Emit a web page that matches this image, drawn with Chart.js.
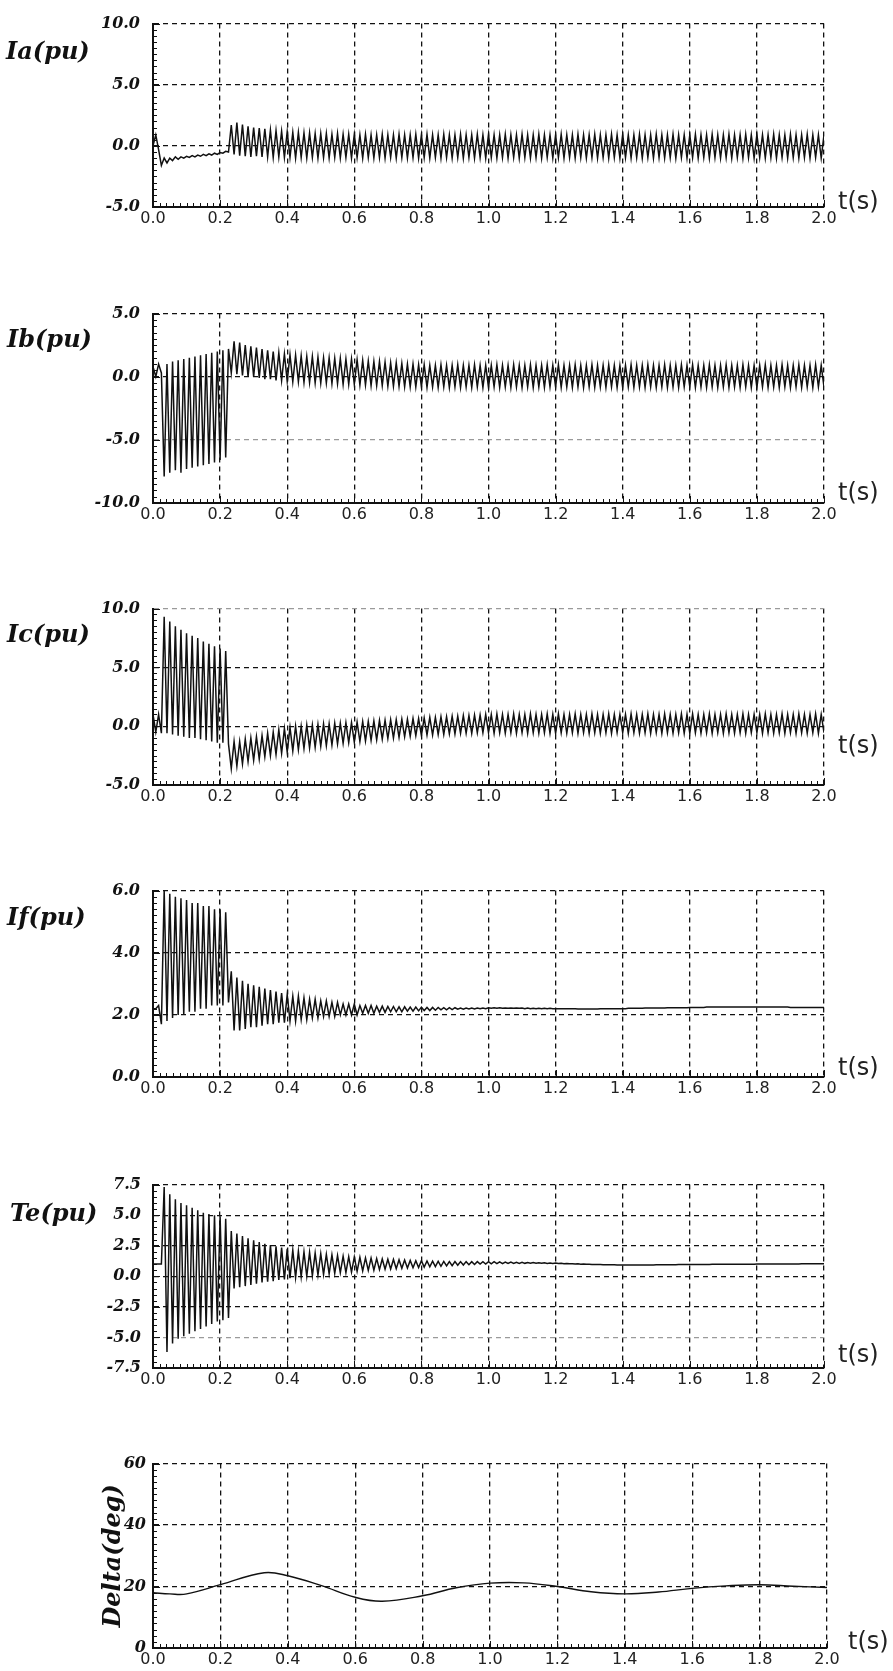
<!DOCTYPE html>
<html>
<head>
<meta charset="utf-8">
<title>Ia Ib Ic If Te Delta</title>
<script src="https://cdn.jsdelivr.net/npm/chart.js@4.4.1/dist/chart.umd.min.js"></script>
<style>
  body { margin: 0; background: #fff; }
  #wrap { position: relative; width: 893px; height: 1671px; background: #fff; overflow: hidden; }
  canvas { position: absolute; left: 0; }
</style>
</head>
<body>
<div id="wrap"></div>
<script>
// samples every half cycle of 60 Hz, 0 .. 2 s
var halfCycle = 1 / 120;
var times = Array.from({ length: 241 }, (_, k) => +(k * halfCycle).toFixed(5));

var xTicks = [0.0, 0.2, 0.4, 0.6, 0.8, 1.0, 1.2, 1.4, 1.6, 1.8, 2.0];

var ia = [
  0.0, 0.9, -0.3, -1.6, -1.0, -1.4, -1.0, -1.2, -0.9, -1.1, -0.9, -1.0, -0.85, -0.95, -0.8, -0.9, -0.75, -0.85, -0.7, -0.8, -0.65, -0.75, -0.6, -0.7,
  -0.55, -0.6, -0.45, -0.5, 1.7, -0.7, 1.9, -0.8, 1.75, -0.85, 1.6, -0.9, 1.5, -0.85, 1.45, -0.9, 1.4, -0.9, 1.3, -0.95, 1.25, -0.9, 1.2, -0.95,
  1.15, -0.95, 1.1, -1.0, 1.1, -0.95, 1.05, -1.0, 1.05, -0.95, 1.0, -1.0, 1.0, -0.95, 1.0, -1.0, 0.95, -0.95, 1.0, -1.0, 0.95, -0.95, 0.95, -1.0,
  0.95, -0.95, 0.9, -1.0, 0.95, -0.95, 0.9, -1.0, 0.9, -0.95, 0.95, -1.0, 0.9, -0.95, 0.9, -1.0, 0.95, -0.95, 0.9, -1.0, 0.9, -0.95, 0.95, -1.0,
  0.9, -0.95, 0.95, -1.0, 0.9, -0.95, 0.9, -1.0, 0.95, -0.95, 0.9, -1.0, 0.9, -0.95, 0.95, -1.0, 0.9, -0.95, 0.9, -1.0, 0.95, -0.95, 0.9, -1.0,
  0.95, -0.95, 0.9, -1.0, 0.9, -0.95, 0.95, -1.0, 0.9, -0.95, 0.9, -1.0, 0.95, -0.95, 0.9, -1.0, 0.9, -0.95, 0.95, -1.0, 0.9, -0.95, 0.9, -1.0,
  0.9, -0.95, 0.95, -1.0, 0.9, -0.95, 0.9, -1.0, 0.95, -0.95, 0.9, -1.0, 0.9, -0.95, 0.95, -1.0, 0.9, -0.95, 0.9, -1.0, 0.95, -0.95, 0.9, -1.0,
  0.95, -0.95, 0.9, -1.0, 0.9, -0.95, 0.95, -1.0, 0.9, -0.95, 0.9, -1.0, 0.95, -0.95, 0.9, -1.0, 0.9, -0.95, 0.95, -1.0, 0.9, -0.95, 0.9, -1.0,
  0.9, -0.95, 0.95, -1.0, 0.9, -0.95, 0.9, -1.0, 0.95, -0.95, 0.9, -1.0, 0.9, -0.95, 0.95, -1.0, 0.9, -0.95, 0.9, -1.0, 0.95, -0.95, 0.9, -1.0,
  0.95, -0.95, 0.9, -1.0, 0.9, -0.95, 0.95, -1.0, 0.9, -0.95, 0.9, -1.0, 0.95, -0.95, 0.9, -1.0, 0.9, -0.95, 0.95, -1.0, 0.9, -0.95, 0.9, -1.0,
  0.9
];

var ib = [
  0.8, 0.0, 1.0, 0.3, -7.9, 1.0, -7.6, 1.2, -7.4, 1.3, -7.6, 1.4, -7.3, 1.5, -7.2, 1.6, -7.1, 1.7, -7.0, 1.8, -6.9, 1.9, -6.8, 2.0,
  -6.6, 2.1, -6.4, 2.2, 0.3, 2.8, 0.2, 2.7, 0.1, 2.5, 0.0, 2.4, 0.0, 2.3, -0.1, 2.2, -0.2, 2.1, -0.2, 2.0, -0.3, 1.9, -0.3, 1.8,
  -0.35, 1.75, -0.4, 1.7, -0.4, 1.65, -0.45, 1.6, -0.45, 1.6, -0.5, 1.55, -0.5, 1.5, -0.5, 1.5, -0.55, 1.45, -0.55, 1.45, -0.6, 1.4, -0.6, 1.4,
  -0.6, 1.35, -0.65, 1.3, -0.65, 1.25, -0.7, 1.2, -0.7, 1.2, -0.7, 1.15, -0.75, 1.1, -0.75, 1.1, -0.75, 1.05, -0.8, 1.0, -0.8, 1.0, -0.8, 0.95,
  -0.8, 0.95, -0.85, 0.9, -0.8, 0.9, -0.85, 0.95, -0.8, 0.9, -0.85, 0.9, -0.8, 0.95, -0.85, 0.9, -0.8, 0.9, -0.85, 0.95, -0.8, 0.9, -0.85, 0.9,
  -0.85, 0.9, -0.8, 0.95, -0.85, 0.9, -0.8, 0.9, -0.85, 0.95, -0.8, 0.9, -0.85, 0.9, -0.8, 0.95, -0.85, 0.9, -0.8, 0.9, -0.85, 0.95, -0.8, 0.9,
  -0.8, 0.95, -0.85, 0.9, -0.8, 0.9, -0.85, 0.95, -0.8, 0.9, -0.85, 0.9, -0.8, 0.95, -0.85, 0.9, -0.8, 0.9, -0.85, 0.95, -0.8, 0.9, -0.85, 0.9,
  -0.85, 0.9, -0.8, 0.95, -0.85, 0.9, -0.8, 0.9, -0.85, 0.95, -0.8, 0.9, -0.85, 0.9, -0.8, 0.95, -0.85, 0.9, -0.8, 0.9, -0.85, 0.95, -0.8, 0.9,
  -0.8, 0.95, -0.85, 0.9, -0.8, 0.9, -0.85, 0.95, -0.8, 0.9, -0.85, 0.9, -0.8, 0.95, -0.85, 0.9, -0.8, 0.9, -0.85, 0.95, -0.8, 0.9, -0.85, 0.9,
  -0.85, 0.9, -0.8, 0.95, -0.85, 0.9, -0.8, 0.9, -0.85, 0.95, -0.8, 0.9, -0.85, 0.9, -0.8, 0.95, -0.85, 0.9, -0.8, 0.9, -0.85, 0.95, -0.8, 0.9,
  -0.8
];

var ic = [
  1.0, -0.5, 1.0, -0.6, 9.3, -0.6, 8.9, -0.7, 8.5, -0.8, 8.2, -0.9, 7.9, -1.0, 7.7, -1.0, 7.5, -1.1, 7.2, -1.2, 7.0, -1.3, 6.8, -1.4,
  6.6, -1.4, 6.4, -1.5, -3.6, -1.3, -3.4, -1.3, -3.2, -1.1, -3.0, -1.0, -2.9, -0.9, -2.8, -0.8, -2.6, -0.6, -2.5, -0.5, -2.4, -0.3, -2.3, -0.2,
  -2.2, -0.1, -2.1, 0.0, -2.0, 0.0, -1.9, 0.1, -1.85, 0.1, -1.8, 0.15, -1.7, 0.2, -1.65, 0.2, -1.6, 0.25, -1.5, 0.25, -1.45, 0.3, -1.4, 0.3,
  -1.35, 0.35, -1.3, 0.4, -1.25, 0.4, -1.2, 0.45, -1.15, 0.5, -1.1, 0.5, -1.05, 0.55, -1.0, 0.55, -0.95, 0.6, -0.9, 0.6, -0.85, 0.65, -0.8, 0.65,
  -0.8, 0.7, -0.75, 0.75, -0.75, 0.75, -0.7, 0.8, -0.7, 0.8, -0.65, 0.85, -0.65, 0.85, -0.6, 0.9, -0.6, 0.9, -0.6, 0.95, -0.55, 0.95, -0.55, 1.0,
  -0.55, 1.0, -0.6, 1.05, -0.55, 1.0, -0.6, 1.0, -0.55, 1.05, -0.6, 1.0, -0.55, 1.0, -0.6, 1.05, -0.55, 1.0, -0.6, 1.0, -0.55, 1.05, -0.6, 1.0,
  -0.6, 1.05, -0.55, 1.0, -0.6, 1.0, -0.55, 1.05, -0.6, 1.0, -0.55, 1.0, -0.6, 1.05, -0.55, 1.0, -0.6, 1.0, -0.55, 1.05, -0.6, 1.0, -0.55, 1.0,
  -0.55, 1.0, -0.6, 1.05, -0.55, 1.0, -0.6, 1.0, -0.55, 1.05, -0.6, 1.0, -0.55, 1.0, -0.6, 1.05, -0.55, 1.0, -0.6, 1.0, -0.55, 1.05, -0.6, 1.0,
  -0.6, 1.05, -0.55, 1.0, -0.6, 1.0, -0.55, 1.05, -0.6, 1.0, -0.55, 1.0, -0.6, 1.05, -0.55, 1.0, -0.6, 1.0, -0.55, 1.05, -0.6, 1.0, -0.55, 1.0,
  -0.55, 1.0, -0.6, 1.05, -0.55, 1.0, -0.6, 1.0, -0.55, 1.05, -0.6, 1.0, -0.55, 1.0, -0.6, 1.05, -0.55, 1.0, -0.6, 1.0, -0.55, 1.05, -0.6, 1.0,
  -0.55
];

var iff = [
  2.2, 2.2, 2.3, 1.7, 6.0, 1.8, 5.9, 1.9, 5.8, 2.0, 5.75, 2.0, 5.7, 2.1, 5.6, 2.1, 5.6, 2.2, 5.5, 2.2, 5.5, 2.3, 5.4, 2.3,
  5.4, 2.3, 5.3, 2.4, 3.4, 1.5, 3.2, 1.5, 3.1, 1.55, 3.0, 1.6, 2.95, 1.6, 2.9, 1.65, 2.85, 1.7, 2.8, 1.7, 2.75, 1.75, 2.7, 1.75,
  2.65, 1.8, 2.6, 1.8, 2.6, 1.85, 2.55, 1.85, 2.5, 1.9, 2.5, 1.9, 2.45, 1.95, 2.45, 1.95, 2.4, 1.95, 2.4, 2.0, 2.35, 2.0, 2.35, 2.0,
  2.35, 2.0, 2.3, 2.05, 2.3, 2.05, 2.3, 2.05, 2.28, 2.08, 2.28, 2.08, 2.27, 2.1, 2.27, 2.1, 2.26, 2.1, 2.26, 2.12, 2.25, 2.12, 2.25, 2.13,
  2.25, 2.14, 2.24, 2.14, 2.24, 2.15, 2.24, 2.16, 2.23, 2.16, 2.23, 2.17, 2.23, 2.18, 2.22, 2.18, 2.22, 2.19, 2.22, 2.19, 2.22, 2.2, 2.22, 2.2,
  2.23, 2.21, 2.23, 2.21, 2.23, 2.21, 2.22, 2.21, 2.22, 2.21, 2.22, 2.21, 2.22, 2.2, 2.22, 2.2, 2.21, 2.2, 2.21, 2.2, 2.21, 2.2, 2.21, 2.2,
  2.2, 2.2, 2.2, 2.2, 2.2, 2.2, 2.2, 2.2, 2.19, 2.19, 2.19, 2.19, 2.19, 2.19, 2.19, 2.19, 2.2, 2.2, 2.2, 2.2, 2.2, 2.2, 2.2, 2.2,
  2.2, 2.2, 2.21, 2.21, 2.21, 2.21, 2.21, 2.21, 2.22, 2.22, 2.22, 2.22, 2.22, 2.22, 2.22, 2.22, 2.23, 2.23, 2.23, 2.23, 2.23, 2.23, 2.23, 2.23,
  2.24, 2.24, 2.24, 2.24, 2.24, 2.24, 2.25, 2.25, 2.25, 2.25, 2.25, 2.25, 2.25, 2.25, 2.25, 2.25, 2.25, 2.25, 2.25, 2.25, 2.25, 2.25, 2.25, 2.25,
  2.25, 2.25, 2.25, 2.25, 2.25, 2.25, 2.25, 2.25, 2.25, 2.25, 2.25, 2.25, 2.24, 2.24, 2.24, 2.24, 2.24, 2.24, 2.24, 2.24, 2.24, 2.24, 2.24, 2.24,
  2.24
];

var te = [
  1.0, 1.0, 1.0, 1.0, 7.3, -6.2, 6.7, -5.5, 6.3, -5.1, 6.0, -4.9, 5.8, -4.7, 5.6, -4.5, 5.4, -4.3, 5.2, -4.1, 5.1, -3.9, 5.0, -3.7,
  4.9, -3.6, 4.7, -3.4, 3.7, -1.0, 3.5, -0.9, 3.3, -0.8, 3.1, -0.7, 2.95, -0.6, 2.8, -0.5, 2.65, -0.45, 2.55, -0.4, 2.45, -0.3, 2.35, -0.25,
  2.25, -0.15, 2.15, -0.1, 2.05, -0.05, 2.0, 0.0, 1.95, 0.05, 1.9, 0.1, 1.85, 0.15, 1.8, 0.2, 1.75, 0.25, 1.7, 0.3, 1.65, 0.3, 1.6, 0.35,
  1.58, 0.4, 1.55, 0.45, 1.5, 0.48, 1.48, 0.5, 1.45, 0.55, 1.42, 0.58, 1.4, 0.6, 1.38, 0.62, 1.35, 0.65, 1.33, 0.68, 1.3, 0.7, 1.28, 0.72,
  1.27, 0.75, 1.25, 0.77, 1.24, 0.8, 1.23, 0.82, 1.22, 0.85, 1.21, 0.87, 1.2, 0.9, 1.2, 0.92, 1.2, 0.95, 1.2, 0.97, 1.2, 1.0, 1.2, 1.0,
  1.2, 1.02, 1.19, 1.03, 1.18, 1.04, 1.17, 1.05, 1.16, 1.05, 1.15, 1.06, 1.14, 1.06, 1.13, 1.06, 1.12, 1.06, 1.11, 1.06, 1.1, 1.05, 1.09, 1.05,
  1.08, 1.04, 1.06, 1.03, 1.05, 1.02, 1.03, 1.0, 1.02, 0.99, 1.0, 0.98, 0.99, 0.97, 0.97, 0.96, 0.96, 0.95, 0.95, 0.94, 0.94, 0.94, 0.93, 0.93,
  0.93, 0.92, 0.92, 0.92, 0.92, 0.92, 0.92, 0.92, 0.93, 0.93, 0.93, 0.93, 0.94, 0.94, 0.94, 0.94, 0.95, 0.95, 0.95, 0.95, 0.96, 0.96, 0.96, 0.96,
  0.97, 0.97, 0.97, 0.97, 0.97, 0.97, 0.97, 0.97, 0.98, 0.98, 0.98, 0.98, 0.98, 0.98, 0.98, 0.98, 0.99, 0.99, 0.99, 0.99, 0.99, 0.99, 0.99, 0.99,
  1.0, 1.0, 1.0, 1.0, 1.0, 1.0, 1.0, 1.0, 1.01, 1.01, 1.01, 1.01, 1.01, 1.01, 1.01, 1.01, 1.02, 1.02, 1.02, 1.02, 1.02, 1.02, 1.02, 1.02,
  1.02
];

// rotor angle, smooth swing
var deltaT = [0, 0.05, 0.1, 0.2, 0.33, 0.4, 0.5, 0.6, 0.68, 0.8, 0.9, 1.0, 1.1, 1.2, 1.3, 1.4, 1.5, 1.6, 1.7, 1.8, 1.9, 2.0];
var delta = [18.0, 17.6, 17.6, 20.6, 24.5, 23.5, 20.3, 16.5, 15.2, 17.0, 19.6, 21.1, 21.2, 20.0, 18.3, 17.6, 18.2, 19.4, 20.2, 20.6, 20.1, 19.7];

var panels = [
  { label: 'Ia(pu)', t: times, v: ia, yMin: -5, yMax: 10, yStep: 5, digits: 1, top: 15, bottom: 207, right: 824,
    labelX: 6, labelDy: 29, unitDx: 14, unitDy: -4, yPad: 13 },
  { label: 'Ib(pu)', t: times, v: ib, yMin: -10, yMax: 5, yStep: 5, digits: 1, top: 305, bottom: 503, right: 824,
    labelX: 7, labelDy: 27, unitDx: 14, unitDy: -9, yPad: 13, light: -5 },
  { label: 'Ic(pu)', t: times, v: ic, yMin: -5, yMax: 10, yStep: 5, digits: 1, top: 600, bottom: 785, right: 824,
    labelX: 7, labelDy: 27, unitDx: 14, unitDy: -38, yPad: 13, light: 10 },
  { label: 'If(pu)', t: times, v: iff, yMin: 0, yMax: 6, yStep: 2, digits: 1, top: 882, bottom: 1077, right: 824,
    labelX: 7, labelDy: 28, unitDx: 14, unitDy: -8, yPad: 13 },
  { label: 'Te(pu)', t: times, v: te, yMin: -7.5, yMax: 7.5, yStep: 2.5, digits: 1, top: 1177, bottom: 1368, right: 824,
    labelX: 10, labelDy: 30, unitDx: 14, unitDy: -12, yPad: 12, light: -5, minor: 5 },
  { label: 'Delta(deg)', t: deltaT, v: delta, yMin: 0, yMax: 60, yStep: 20, digits: 0, top: 1461, bottom: 1648, right: 827,
    labelX: 114, rotate: true, unitDx: 21, unitDy: -5, yPad: 7, tension: 0.4 }
];

var ink = '#111';

var minorTicks = {
  id: 'minorTicks',
  afterDraw(chart, args, opts) {
    var ctx = chart.ctx, area = chart.chartArea;
    var xs = chart.scales.x, ys = chart.scales.y;
    ctx.save();
    ctx.strokeStyle = ink;
    ctx.lineWidth = 1;
    ctx.beginPath();
    var xStep = 0.02;
    for (var i = 0; i <= 100; i++) {
      var px = Math.round(xs.getPixelForValue(i * xStep)) + 0.5;
      var len = i % 10 === 0 ? 7 : 4;
      ctx.moveTo(px, area.bottom);
      ctx.lineTo(px, area.bottom - len);
    }
    var n = opts.minor || 10;
    var yStep = ys.options.ticks.stepSize / n;
    var count = Math.round((ys.max - ys.min) / yStep);
    for (var j = 0; j <= count; j++) {
      var py = Math.round(ys.getPixelForValue(ys.min + j * yStep)) + 0.5;
      var ylen = j % n === 0 ? 7 : 4;
      ctx.moveTo(area.left, py);
      ctx.lineTo(area.left + ylen, py);
    }
    ctx.stroke();
    ctx.restore();
  }
};

var panelText = {
  id: 'panelText',
  afterDraw(chart, args, opts) {
    var ctx = chart.ctx, area = chart.chartArea;
    ctx.save();
    ctx.fillStyle = ink;
    ctx.textBaseline = 'middle';
    ctx.font = 'italic bold 24px "DejaVu Serif"';
    if (opts.rotate) {
      ctx.translate(opts.labelX, (area.top + area.bottom) / 2);
      ctx.rotate(-Math.PI / 2);
      ctx.textAlign = 'center';
      ctx.fillText(opts.label, 0, 0);
    } else {
      ctx.textAlign = 'left';
      ctx.fillText(opts.label, opts.labelX, area.top + opts.labelDy);
    }
    ctx.restore();
    ctx.save();
    ctx.fillStyle = '#222';
    ctx.textBaseline = 'middle';
    ctx.textAlign = 'left';
    ctx.font = '24px "DejaVu Sans"';
    ctx.fillText('t(s)', area.right + opts.unitDx, area.bottom + opts.unitDy);
    ctx.restore();
  }
};

var wrap = document.getElementById('wrap');

panels.forEach(function(p) {
  var canvas = document.createElement('canvas');
  var padTop = 14, axisH = 34;
  canvas.width = 893;
  canvas.height = p.bottom - p.top + padTop + axisH;
  canvas.style.top = (p.top - padTop) + 'px';
  wrap.appendChild(canvas);

  var points = p.t.map(function(t, i) { return { x: t, y: p.v[i] }; });

  new Chart(canvas, {
    type: 'line',
    data: {
      datasets: [{
        data: points,
        borderColor: ink,
        borderWidth: p.tension ? 1.4 : 1.5,
        pointRadius: 0,
        tension: p.tension || 0
      }]
    },
    options: {
      responsive: false,
      animation: false,
      devicePixelRatio: 1,
      layout: { padding: { top: padTop, left: 0, right: 893 - p.right, bottom: 0 } },
      plugins: {
        legend: { display: false },
        tooltip: { enabled: false },
        minorTicks: { minor: p.minor },
        panelText: { label: p.label, labelX: p.labelX, labelDy: p.labelDy, rotate: p.rotate,
                     unitDx: p.unitDx, unitDy: p.unitDy }
      },
      scales: {
        x: {
          type: 'linear',
          min: 0,
          max: 2,
          afterBuildTicks: function(s) { s.ticks = xTicks.map(function(v) { return { value: v }; }); },
          ticks: {
            stepSize: 0.2,
            autoSkip: false,
            maxRotation: 0,
            padding: 2,
            color: '#222',
            font: { family: 'DejaVu Sans', size: 16 },
            callback: function(v) { return Number(v).toFixed(1); }
          },
          grid: { color: ink, lineWidth: 1.3, drawTicks: false },
          border: { color: ink, width: 2, dash: [5, 4] },
          afterFit: function(s) { s.height = axisH; }
        },
        y: {
          min: p.yMin,
          max: p.yMax,
          ticks: {
            stepSize: p.yStep,
            padding: p.yPad,
            color: ink,
            font: { family: 'DejaVu Serif', size: 16, weight: 'bold', style: 'italic' },
            callback: function(v) { return Number(v).toFixed(p.digits); }
          },
          grid: {
            lineWidth: 1.3,
            drawTicks: false,
            color: function(c) { return c.tick && c.tick.value === p.light ? '#9a9a9a' : ink; }
          },
          border: { color: ink, width: 2, dash: [5, 4] },
          afterFit: function(s) { s.width = 153; }
        }
      }
    },
    plugins: [minorTicks, panelText]
  });
});
</script>
</body>
</html>
